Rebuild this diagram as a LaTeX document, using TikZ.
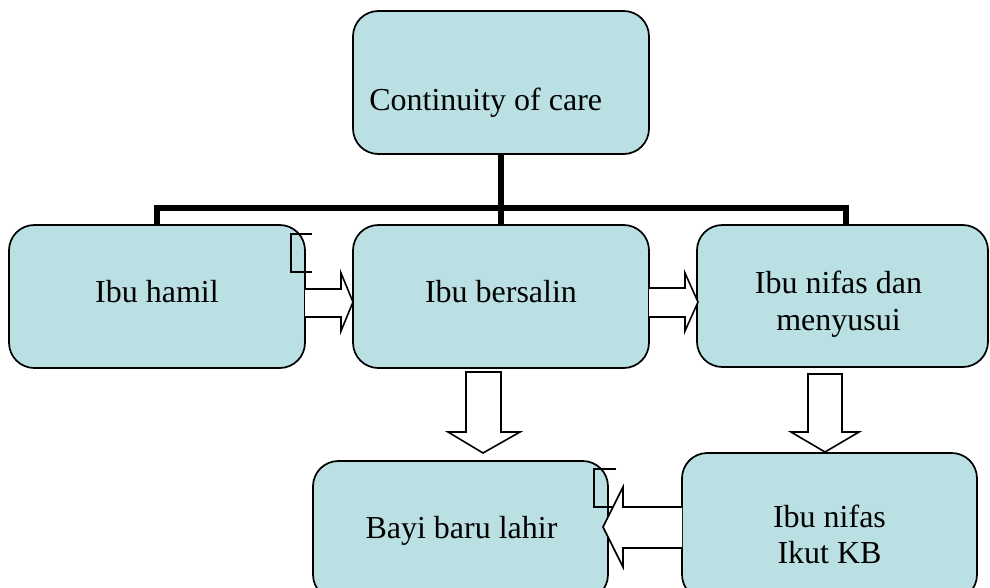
\documentclass[tikz,border=0pt]{standalone}
\usepackage{fontspec}
\setmainfont{Liberation Serif}
\definecolor{boxfill}{RGB}{186,224,228}
\begin{document}
\begin{tikzpicture}[x=0.75pt,y=-0.75pt,
  box/.style={draw=black,fill=boxfill,line width=1.3pt,rounded corners=19pt,inner sep=0pt,minimum width=222pt,minimum height=107.25pt},
  lbl/.style={inner sep=0pt,anchor=base,font=\fontsize{24}{28}\selectfont},
  busline/.style={line width=3.8pt,line join=miter},
  blockarrow/.style={draw=black,fill=white,line width=1.2pt,line join=miter},
  bracketline/.style={line width=1.6pt,line join=miter}]
\useasboundingbox (0,0) rectangle (990,587);
\clip (0,0) rectangle (990,587);

% boxes
\node[box] (top) at (501,82.5) {};
\node[box] (hamil) at (157,296.5) {};
\node[box] (bersalin) at (501,296.5) {};
\node[box,minimum width=218.25pt,minimum height=106.5pt] (nifas) at (842.5,296) {};
\node[box,minimum width=221.25pt,minimum height=104.25pt] (bayi) at (460.5,530.5) {};
\node[box,minimum width=221.25pt,minimum height=110.25pt] (kb) at (829.5,526.5) {};

% labels
\node[lbl,anchor=base west] (ttop) at (369,110) {Continuity of care};
\node[lbl] (thamil) at (157,302) {Ibu hamil};
\node[lbl] (tbersalin) at (501,302) {Ibu bersalin};
\node[lbl] (tnifas1) at (838.5,293) {Ibu nifas dan};
\node[lbl] (tnifas2) at (838.5,330) {menyusui};
\node[lbl] (tbayi) at (461.5,538) {Bayi baru lahir};
\node[lbl] (tkb1) at (829.5,527) {Ibu nifas};
\node[lbl] (tkb2) at (829.5,563) {Ikut KB};

% connector bus
\coordinate (busL) at (157,208);
\coordinate (busR) at (846,208);
\draw[busline] (top.south) -- (bersalin.north);
\draw[busline] (hamil.north) -- (busL) -- (busR) -- (busR |- nifas.north);

% block arrows (right)
\draw[blockarrow] (305,289) -- (341,289) -- (341,273) -- (353,302) -- (341,331) -- (341,317) -- (305,317);
\draw[blockarrow] (649,288) -- (685,288) -- (685,273) -- (698,302) -- (685,331) -- (685,317) -- (649,317);
% block arrows (down)
\draw[blockarrow] (466,372) -- (501,372) -- (501,432) -- (520,432) -- (483,453) -- (448,432) -- (466,432) -- cycle;
\draw[blockarrow] (808,374) -- (842,374) -- (842,432) -- (859,432) -- (825,452) -- (791,432) -- (808,432) -- cycle;
% block arrow (left)
\draw[blockarrow] (682,507) -- (623,507) -- (623,487) -- (603,527) -- (623,567) -- (623,548) -- (682,548);

% brackets
\draw[bracketline] (312,234) -- (291,234) -- (291,272) -- (312,272);
\draw[bracketline] (616,469) -- (594,469) -- (594,507) -- (613,507);
\end{tikzpicture}
\end{document}
